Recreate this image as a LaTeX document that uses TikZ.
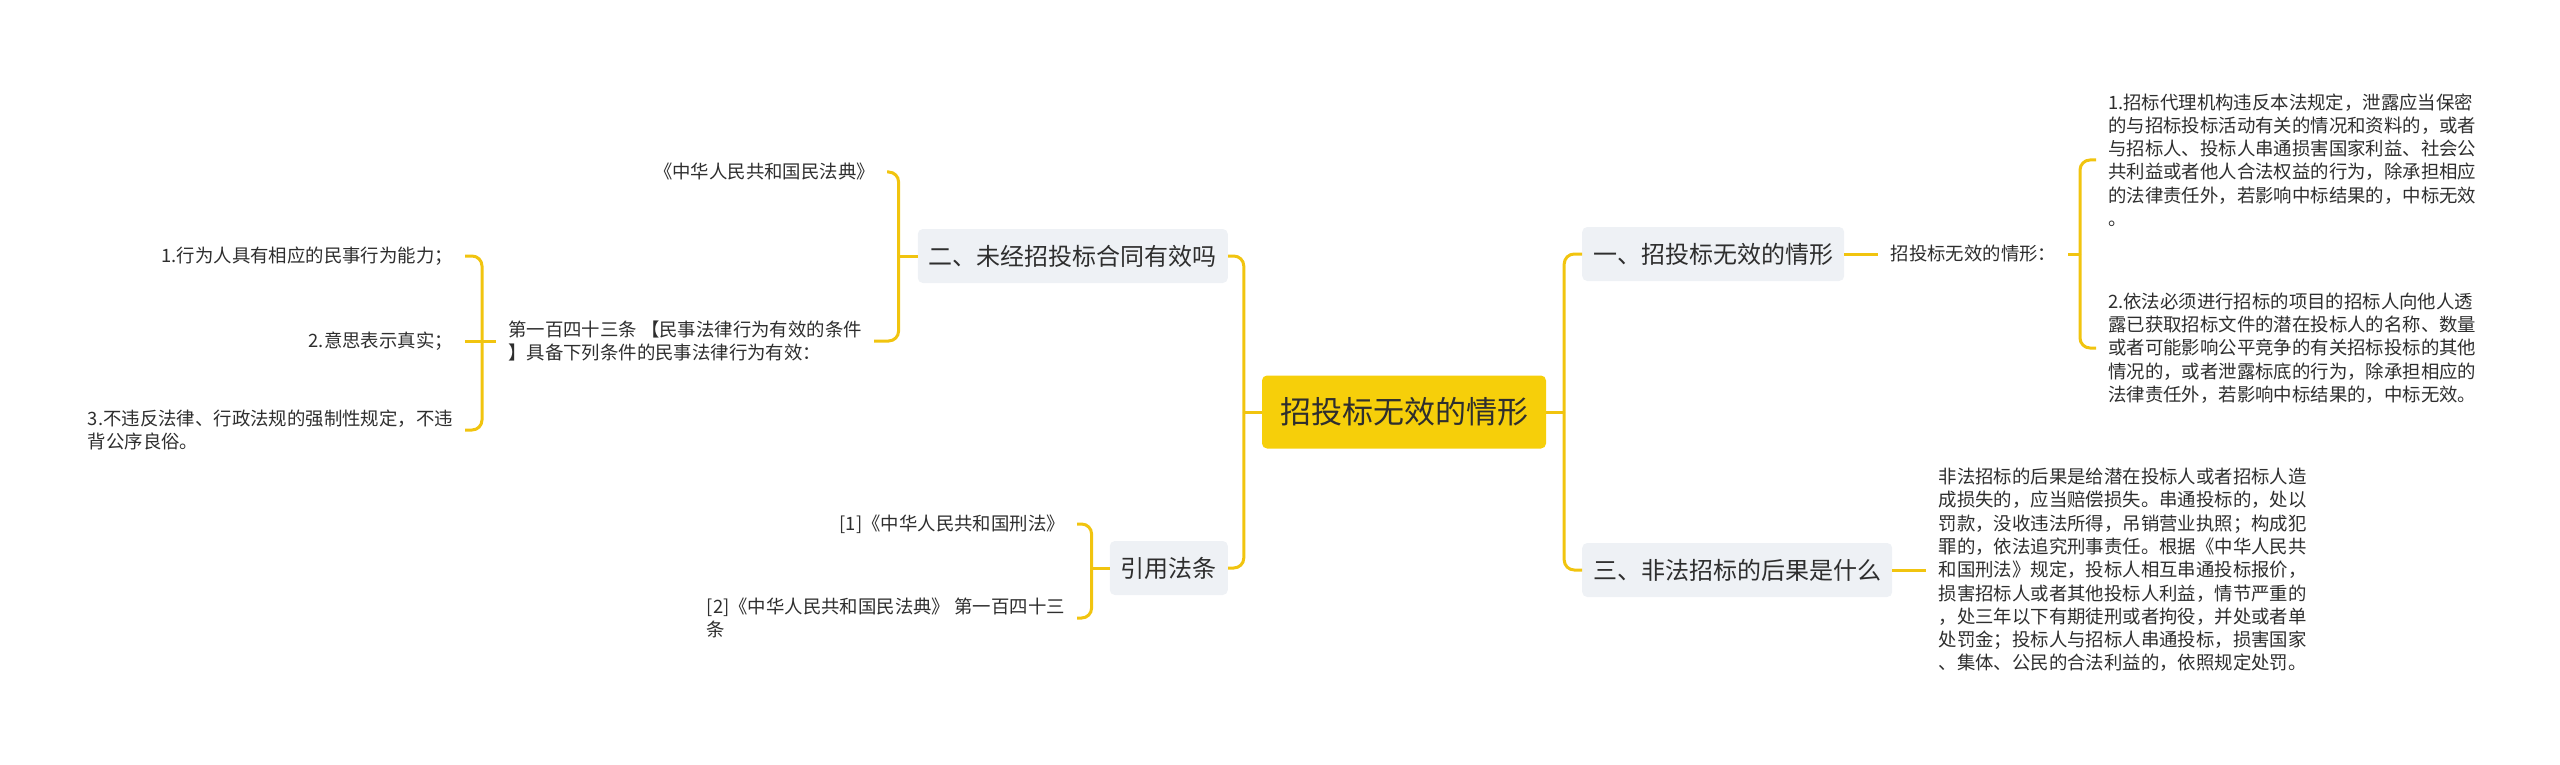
\documentclass[tikz,border=0pt]{standalone}
\usepackage{fontspec}
\newfontfamily\cjk{Noto Sans CJK SC}
\usepackage{tikz}
\usetikzlibrary{positioning}
\usetikzlibrary{calc}
\definecolor{linkcol}{HTML}{F1C40F}
\definecolor{rootfill}{HTML}{F6CF0A}
\definecolor{branchfill}{HTML}{EEF1F5}
\definecolor{inkcol}{HTML}{2E2E2E}
\tikzset{rootnode/.style={fill=rootfill,rounded corners=5pt,inner xsep=18pt,minimum height=73pt,text=inkcol,font=\cjk\fontsize{31}{37}\selectfont},
branchnode/.style={fill=branchfill,rounded corners=5pt,inner xsep=11pt,minimum height=54pt,text=inkcol,font=\cjk\fontsize{24}{29}\selectfont},
leafnode/.style={inner xsep=12pt,inner ysep=2pt,align=left,text=inkcol,font=\cjk\fontsize{18.4}{23.3}\selectfont},
link/.style={draw=linkcol,line width=3pt,rounded corners=10pt}}

\begin{document}
\begin{tikzpicture}[x=1pt,y=-1pt]
\useasboundingbox (0,0) rectangle (2560,765);
\node (root) at (1404,412) [rootnode] {招投标无效的情形};

\node (b1) at (1582,254) [branchnode,anchor=west] {一、招投标无效的情形};
\node (b3) at (1582,570) [branchnode,anchor=west] {三、非法招标的后果是什么};
\node (b2) at (1228,256) [branchnode,anchor=east] {二、未经招投标合同有效吗};
\node (b4) at (1228,568) [branchnode,anchor=east] {引用法条};

\node (t1) [leafnode,right=34pt of b1] {招投标无效的情形：};
\node (r1) at (2096,160) [leafnode,anchor=west] {1.招标代理机构违反本法规定，泄露应当保密\\的与招标投标活动有关的情况和资料的，或者\\与招标人、投标人串通损害国家利益、社会公\\共利益或者他人合法权益的行为，除承担相应\\的法律责任外，若影响中标结果的，中标无效\\。};
\node (r2) at (2096,348) [leafnode,anchor=west] {2.依法必须进行招标的项目的招标人向他人透\\露已获取招标文件的潜在投标人的名称、数量\\或者可能影响公平竞争的有关招标投标的其他\\情况的，或者泄露标底的行为，除承担相应的\\法律责任外，若影响中标结果的，中标无效。};
\node (r3) [leafnode,right=34pt of b3] {非法招标的后果是给潜在投标人或者招标人造\\成损失的，应当赔偿损失。串通投标的，处以\\罚款，没收违法所得，吊销营业执照；构成犯\\罪的，依法追究刑事责任。根据《中华人民共\\和国刑法》规定，投标人相互串通投标报价，\\损害招标人或者其他投标人利益，情节严重的\\，处三年以下有期徒刑或者拘役，并处或者单\\处罚金；投标人与招标人串通投标，损害国家\\、集体、公民的合法利益的，依照规定处罚。};

\node (l1) at (887,172) [leafnode,anchor=east] {《中华人民共和国民法典》};
\node (l2) at (496,341) [leafnode,anchor=west] {第一百四十三条 【民事法律行为有效的条件\\】具备下列条件的民事法律行为有效：};
\node (m1) at (465,256) [leafnode,anchor=east] {1.行为人具有相应的民事行为能力；};
\node (m2) at (465,341) [leafnode,anchor=east] {2.意思表示真实；};
\node (m3) at (465,430) [leafnode,anchor=east] {3.不违反法律、行政法规的强制性规定，不违\\背公序良俗。};

\node (c1) at (1077,524) [leafnode,anchor=east] {[1]《中华人民共和国刑法》};
\node (c2) at (1077,618) [leafnode,anchor=east] {[2]《中华人民共和国民法典》 第一百四十三\\条};

\coordinate (jr) at ($(root.east)+(18,0)$);
\coordinate (jl) at ($(root.west)-(18,0)$);
\coordinate (jt) at (2080,254);
\coordinate (jb2) at ($(b2.west)-(19,0)$);
\coordinate (jl2) at ($(l2.west)-(14,0)$);
\coordinate (jb4) at ($(b4.west)-(18,0)$);

\draw[link] (root.east) -- (jr);
\foreach \b in {b1,b3} {\draw[link] (jr) |- (\b.west);}
\draw[link] (root.west) -- (jl);
\foreach \b in {b2,b4} {\draw[link] (jl) |- (\b.east);}
\draw[link] (b1) -- (t1);
\draw[link] (t1.east) -- (jt);
\foreach \r in {r1,r2} {\draw[link] (jt) |- (\r.west);}
\draw[link] (b3) -- (r3);
\draw[link] (b2.west) -- (jb2);
\foreach \l in {l1,l2} {\draw[link] (jb2) |- (\l.east);}
\draw[link] (l2.west) -- (jl2);
\foreach \m in {m1,m3} {\draw[link] (jl2) |- (\m.east);}
\draw[link] (jl2) -- (m2.east);
\draw[link] (b4.west) -- (jb4);
\foreach \c in {c1,c2} {\draw[link] (jb4) |- (\c.east);}
\end{tikzpicture}
\end{document}
